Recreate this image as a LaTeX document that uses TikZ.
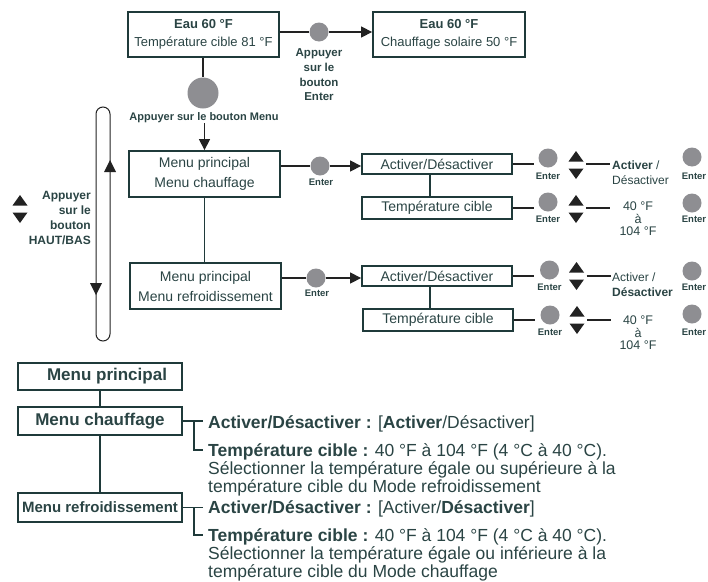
\documentclass[tikz,border=0pt]{standalone}
\usepackage{fontspec}
\setmainfont{Liberation Sans}
\usetikzlibrary{arrows.meta}
\definecolor{boxc}{HTML}{1F3A3A}
\definecolor{txt}{HTML}{2A4444}
\definecolor{btnc}{HTML}{8E8E92}
\definecolor{arrc}{HTML}{222222}

\begin{document}
\begin{tikzpicture}[x=1pt,y=-1pt]
\tikzstyle{every node}+=[inner sep=0pt, text=txt]
\tikzstyle{box}=[draw=boxc, line width=1.8pt, align=center, minimum width=151pt]
\tikzstyle{rbox}=[box, minimum width=150pt, font=\fontsize{14}{16}\selectfont]
\tikzstyle{bbox}=[draw=boxc, line width=2.2pt, minimum width=164pt, font=\bfseries\fontsize{17}{18}\selectfont]
\tikzstyle{btn}=[circle, fill=btnc, minimum size=19pt]
\tikzstyle{lbl}=[font=\bfseries\fontsize{9.5}{10}\selectfont]
\tikzstyle{val}=[font=\fontsize{12}{15}\selectfont]
\tikzstyle{desc}=[font=\fontsize{17.5}{18}\selectfont, align=left]
\tikzstyle{updn}=[minimum width=15pt, minimum height=28pt]
\tikzstyle{lnk}=[draw=arrc, line width=1.3pt]
\tikzstyle{arr}=[lnk, -{Triangle[length=11pt,width=11pt]}]
\useasboundingbox (0,0) rectangle (708,581);

% top row
\node[box, minimum height=45pt, font=\fontsize{13}{18}\selectfont] (eau1) at (203.5,34.5) {\textbf{Eau 60 °F}\\Température cible 81 °F};
\node[box, minimum width=152pt, minimum height=45pt, font=\fontsize{13}{18}\selectfont] (eau2) at (449,34.5) {\textbf{Eau 60 °F}\\Chauffage solaire 50 °F};
\node[btn] (eb) at (319,32) {};
\node[font=\bfseries\fontsize{11.5}{14.7}\selectfont, align=center] (ebt) at (319,75) {Appuyer\\sur le\\bouton\\Enter};
\draw[lnk] (eau1.east |- eb) -- (eb);
\draw[arr] (eb) -- (eau2.west |- eb);

% menu button
\node[btn, minimum size=31pt] (mb) at (203,93) {};
\draw[lnk] (eau1.south -| mb) -- (mb);
\node[font=\bfseries\fontsize{11}{13}\selectfont] (mbt) at (204,118) {Appuyer sur le bouton Menu};

% main menus
\node[box, minimum height=46pt, font=\fontsize{14}{20}\selectfont] (mc) at (204.5,174) {Menu principal\\Menu chauffage};
\node[box, minimum height=46pt, font=\fontsize{14}{20}\selectfont] (mr) at (205.5,286) {Menu principal\\Menu refroidissement};
\draw[arr] (mbt.south -| mc.north) -- (mc.north);
\draw[lnk, draw=boxc, line width=1.5pt] (mc.south) -- (mc.south |- mr.north);

% sub menus
\node[rbox, minimum height=20pt] (ad1) at (437,164) {Activer/Désactiver};
\node[rbox, minimum height=22pt] (tc1) at (437,208) {Température cible};
\node[rbox, minimum height=20pt] (ad2) at (437,276) {Activer/Désactiver};
\node[rbox, minimum height=22pt] (tc2) at (438,320) {Température cible};
\draw[lnk, draw=boxc] ([xshift=-7pt]ad1.south) -- ([xshift=-7pt]tc1.north);
\draw[lnk, draw=boxc] ([xshift=-7pt]ad2.south) -- ([xshift=-8pt]tc2.north);

\node[btn] (mcb) at (320,166) {};
\node[btn] (mrb) at (316,278) {};
\draw[lnk] (mc.east |- mcb) -- (mcb);
\draw[arr] (mcb) -- (ad1.west |- mcb);
\draw[lnk] (mr.east |- mrb) -- (mrb);
\draw[arr] (mrb) -- (ad2.west |- mrb);

% buttons and up/down keys
\foreach \n/\x/\y in {b11/548/158, b12/692/157, b21/548/202, b22/692/203,
                      b31/549.5/270, b32/692/271, b41/550/315, b42/692/314}
  \node[btn] (\n) at (\x,\y) {};
\foreach \i/\x/\y in {0/321/182, 00/317/293, 11/548/176, 12/694/176, 21/548/219, 22/694/219,
                      31/549.5/287, 32/694/287, 41/550/332, 42/694/332}
  \node[lbl] (ent\i) at (\x,\y) {Enter};
\foreach \n/\x/\y in {ud1/576/165, ud2/576/209, ud3/576.5/276, ud4/577/320, udl/20/209}
  \node[updn] (\n) at (\x,\y) {};
\foreach \n in {ud1,ud2,ud3,ud4,udl}
  \fill[arrc, shift={(\n)}] (-7.5,-3.5) -- (7.5,-3.5) -- (0,-14) -- cycle
                            (-7.5,3.5) -- (7.5,3.5) -- (0,14) -- cycle;

% values
\node[val, anchor=west, align=left] (v1) at (612,172.5) {\textbf{Activer} /\\Désactiver};
\node[val, align=center, font=\fontsize{12.5}{12.5}\selectfont] (v2) at (638,219) {40 °F\\à\\104 °F};
\node[val, anchor=west, align=left] (v3) at (612,284.5) {Activer /\\\textbf{Désactiver}};
\node[val, align=center, font=\fontsize{12.5}{12.5}\selectfont] (v4) at (638,333) {40 °F\\à\\104 °F};

\draw[lnk] (ad1.east) -- ++(21,0);
\draw[lnk] (tc1.east) -- ++(21,0);
\draw[lnk] (ad2.east) -- ++(21,0);
\draw[lnk] (tc2.east) -- ++(21,0);
\draw[lnk] ([xshift=2.5pt]ud1.east |- ad1.east) -- ++(24,0);
\draw[lnk] ([xshift=2.5pt]ud2.east |- tc1.east) -- ++(24,0);
\draw[lnk] ([xshift=2.5pt]ud3.east |- ad2.east) -- ++(24,0);
\draw[lnk] ([xshift=2.5pt]ud4.east |- tc2.east) -- ++(24,0);

% up/down loop
\draw[arrc, line width=1pt, rounded corners=7pt] (96,107) rectangle (110,341);
\fill[arrc] (104,172) -- (116,172) -- (110,160) -- cycle;
\fill[arrc] (90,283) -- (102,283) -- (96,295) -- cycle;
\node[font=\bfseries\fontsize{12}{15}\selectfont, align=right, anchor=east] (hb) at (91,217.5) {Appuyer\\sur le\\bouton\\HAUT/BAS};

% summary
\node[bbox, minimum height=27pt] (bmp) at (100,376.5) {\hspace*{14pt}Menu principal};
\node[bbox, minimum height=28pt] (bmc) at (100,421) {Menu chauffage};
\node[bbox, minimum height=29pt, font=\bfseries\fontsize{15}{16}\selectfont] (bmr) at (100,507.5) {Menu refroidissement};
\draw[draw=boxc, line width=2pt] (bmp) -- (bmc);
\draw[draw=boxc, line width=2pt] (bmc) -- (bmr);

\node[desc, anchor=base west] (da1) at (208,428) {\textbf{Activer/Désactiver :} [\textbf{Activer}/Désactiver]};
\node[desc, anchor=north west] (dt1) at (208,443) {\textbf{Température cible :} 40 °F à 104 °F (4 °C à 40 °C).\\Sélectionner la température égale ou supérieure à la\\température cible du Mode refroidissement};
\node[desc, anchor=base west] (da2) at (208,513) {\textbf{Activer/Désactiver :} [Activer/\textbf{Désactiver}]};
\node[desc, anchor=north west] (dt2) at (208,528) {\textbf{Température cible :} 40 °F à 104 °F (4 °C à 40 °C).\\Sélectionner la température égale ou inférieure à la\\température cible du Mode chauffage};

\draw[draw=boxc, line width=1.3pt] (bmc.east) -- ([xshift=-5pt]bmc.east -| da1.west);
\draw[draw=boxc, line width=1.3pt] ([xshift=11pt]bmc.east) |- ([xshift=-5pt,yshift=-7pt]dt1.north west);
\draw[draw=boxc, line width=1.3pt] (bmr.east) -- ([xshift=-5pt]bmr.east -| da2.west);
\draw[draw=boxc, line width=1.3pt] ([xshift=11pt]bmr.east) |- ([xshift=-5pt,yshift=-7pt]dt2.north west);
\end{tikzpicture}
\end{document}
